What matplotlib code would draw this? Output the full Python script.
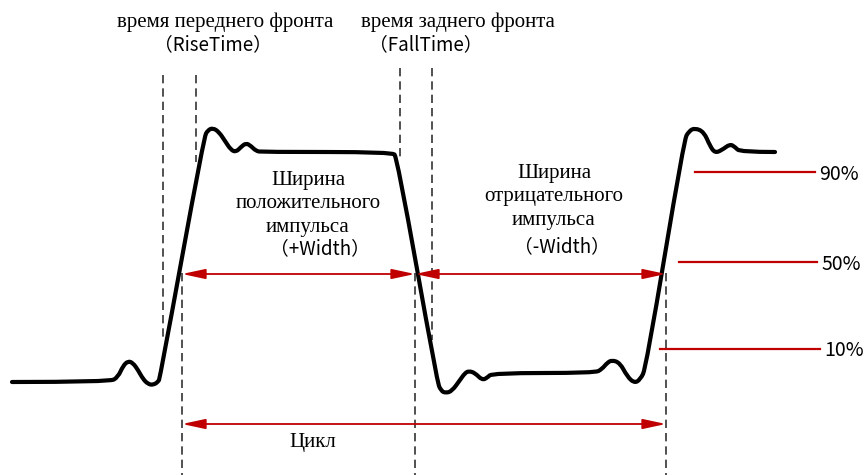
import matplotlib
matplotlib.use("Agg")
import matplotlib.pyplot as plt
from matplotlib.path import Path
from matplotlib.patches import PathPatch

# Canvas in pixel units: x to the right, y downward (864 x 475)
W, H = 864, 475

# Waveform corner points (pixel coords)
wave_x = [12, 110, 118, 123, 128, 133, 138, 143, 148, 153, 158, 160, 204, 208, 213, 219, 225,
          231, 236, 241, 246, 251, 256, 262,
          392, 397, 437, 441, 446, 452, 460, 465, 469, 475, 482, 487, 492,
          595, 602, 607, 612, 620, 627, 634, 640, 646, 684, 689, 695, 704, 710, 715, 722,
          730, 735, 740, 775]
wave_y = [382, 382, 377, 366, 361, 363, 370, 379, 384, 385, 382, 378, 137, 130, 128, 132, 141,
          150, 152, 147, 143, 146, 151, 152,
          152, 157, 381, 391, 393, 391, 380, 373, 371, 373, 380, 378, 373,
          373, 369, 363, 360, 363, 376, 383, 380, 368, 140, 131, 128, 132, 146, 153, 150,
          144, 147, 152, 152]

# Vertical dashed markers: x, y_top, y_bottom
dash_x = [163, 196, 182, 400, 432, 415, 666]
dash_top = [75, 75, 273, 68, 68, 273, 273]
dash_bot = [340, 162, 475, 160, 340, 475, 475]

# Threshold level lines
level_labels = ["90%", "50%", "10%"]
level_y = [172, 262, 349]
level_x0 = [695, 679, 660]
level_x1 = [815, 817, 820]

# Double-headed measurement arrows: x0, x1, y
arrow_x0 = [182, 415, 182]
arrow_x1 = [415, 666, 666]
arrow_y = [274, 274, 424]

red = "#c00000"
serif = ["Liberation Serif", "DejaVu Serif"]
sans = ["Noto Sans CJK SC", "DejaVu Sans"]

fig = plt.figure(figsize=(W / 100, H / 100), dpi=100)
ax = fig.add_axes([0, 0, 1, 1])
ax.set_xlim(0, W)
ax.set_ylim(H, 0)
ax.axis("off")

for x, y0, y1 in zip(dash_x, dash_top, dash_bot):
    ax.plot([x, x], [y0, y1], color="#333333", lw=1.2, dashes=(5, 3))

# smooth trace: the read points act as quadratic Bezier control points
pts = list(zip(wave_x, wave_y))
verts = [pts[0]]
codes = [Path.MOVETO]
for i in range(1, len(pts) - 1):
    nxt = pts[i + 1] if i + 1 == len(pts) - 1 else ((pts[i][0] + pts[i + 1][0]) / 2,
                                                     (pts[i][1] + pts[i + 1][1]) / 2)
    verts += [pts[i], nxt]
    codes += [Path.CURVE3, Path.CURVE3]
ax.add_patch(PathPatch(Path(verts, codes), fill=False, edgecolor="black", lw=3.0,
                       joinstyle="round", capstyle="round", zorder=3))

for lab, y, x0, x1 in zip(level_labels, level_y, level_x0, level_x1):
    ax.plot([x0, x1], [y, y], color=red, lw=1.6)
    ax.text(x1 + 4, y + 2, lab, fontsize=14, family=sans, ha="left", va="center")

for x0, x1, y in zip(arrow_x0, arrow_x1, arrow_y):
    ax.annotate("", xy=(x1, y), xytext=(x0, y),
                arrowprops=dict(arrowstyle="<|-|>,head_length=1.4,head_width=0.3",
                                color=red, lw=1.3, shrinkA=0, shrinkB=0,
                                mutation_scale=10), zorder=4)

ax.text(225, 22, "время переднего фронта", fontsize=15, family=serif, ha="center", va="center")
ax.text(213, 45, "（RiseTime）", fontsize=13.5, family=sans, ha="center", va="center")
ax.text(458, 22, "время заднего фронта", fontsize=15, family=serif, ha="center", va="center")
ax.text(426, 45, "（FallTime）", fontsize=13.5, family=sans, ha="center", va="center")

ax.text(308, 204, "Ширина\nположительного\nимпульса", fontsize=15, family=serif,
        ha="center", va="center", linespacing=1.3)
ax.text(320, 249, "（+Width）", fontsize=13.5, family=sans, ha="center", va="center")
ax.text(554, 197, "Ширина\nотрицательного\nимпульса", fontsize=15, family=serif,
        ha="center", va="center", linespacing=1.3)
ax.text(562, 247, "（-Width）", fontsize=13.5, family=sans, ha="center", va="center")

ax.text(313, 443, "Цикл", fontsize=15, family=serif, ha="center", va="center")

fig.savefig("out.png", dpi=100)
